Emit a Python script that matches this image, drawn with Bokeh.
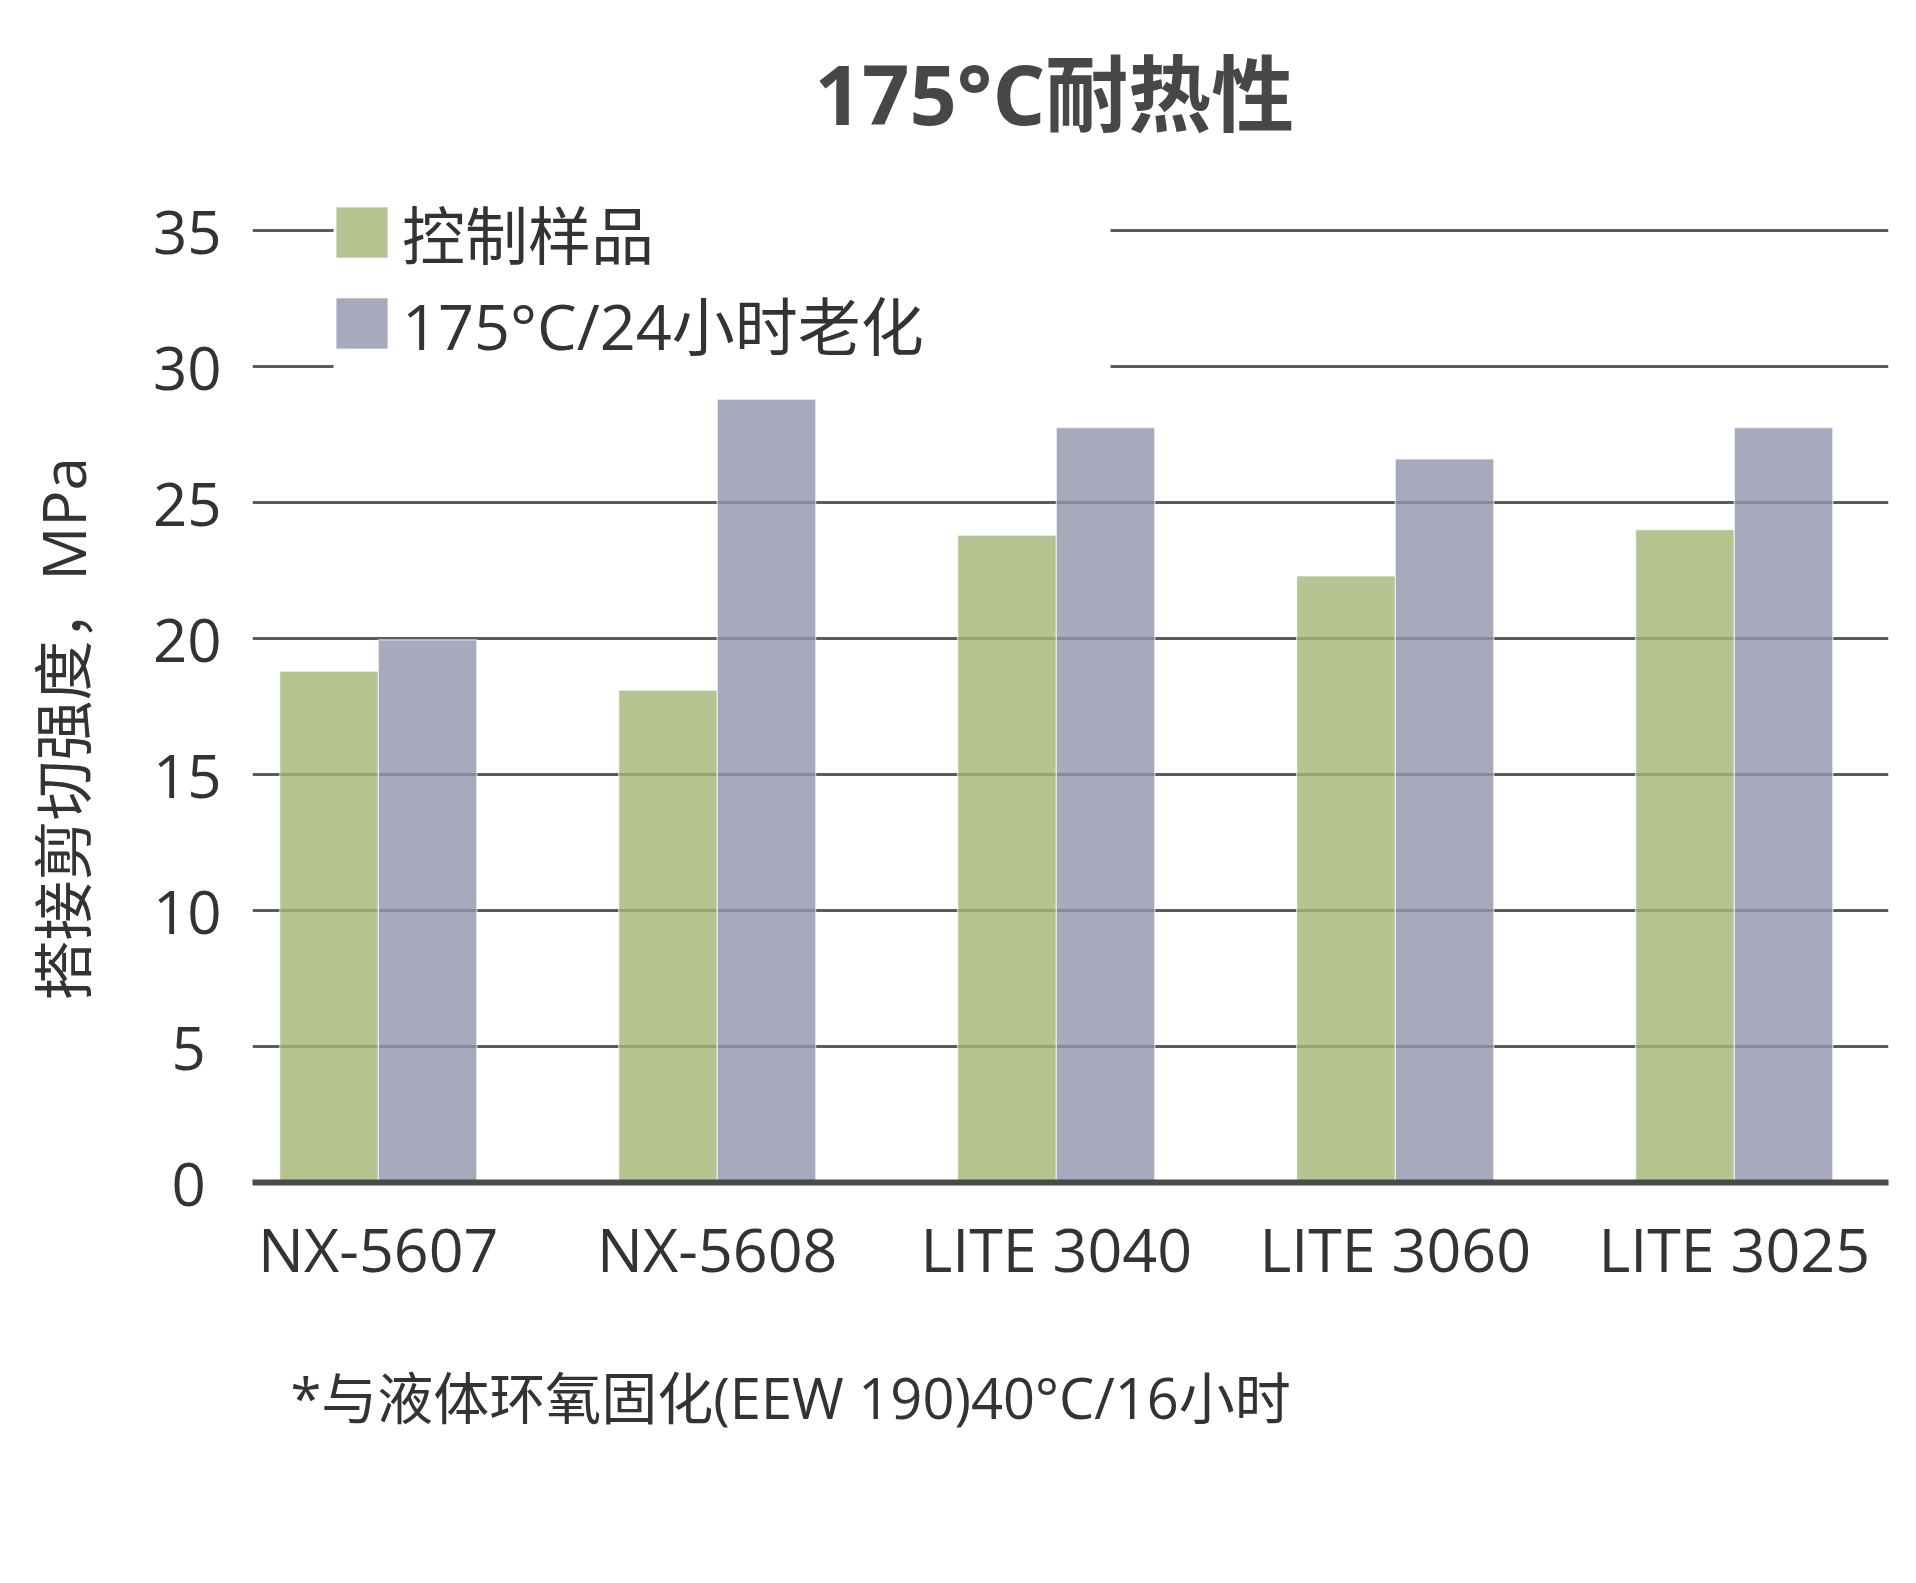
from bokeh.plotting import figure
from bokeh.models import (Range1d, FixedTicker, ColumnDataSource, BoxAnnotation,
                          Legend, LegendItem, Title)
from bokeh.transform import dodge
from bokeh.embed import file_html
from bokeh.resources import INLINE

# ---------------- data ----------------
categories = ["NX-5607", "NX-5608", "LITE 3040", "LITE 3060", "LITE 3025"]
control = [18.8, 18.1, 23.8, 22.3, 24.0]
aged = [19.95, 28.8, 27.75, 26.6, 27.75]
series_names = ["控制样品", "175°C/24小时老化"]
y_ticks = [0, 5, 10, 15, 20, 25, 30, 35]
title_text = "175°C耐热性"
y_title = "搭接剪切强度，MPa"
footnote = "*与液体环氧固化(EEW 190)40°C/16小时"

# ---------------- style / layout ----------------
FONT = "'Open Sans', 'Noto Sans CJK SC'"
TEXT = "#333333"
GREEN = "#A3B574"
GREY = "#9194AB"
BAR_ALPHA = 0.8

PX_PER_CAT = 339.0
PX_PER_UNIT = 27.2
FRAME_W = 1636
FRAME_H = 1012
X0 = -0.371
X1 = X0 + FRAME_W / PX_PER_CAT
Y1 = FRAME_H / PX_PER_UNIT
BAR_W = 0.2906
SHIFT = 27  # left panel widened by this much, figure pulled left by the same amount

p = figure(frame_width=FRAME_W, frame_height=FRAME_H,
           x_range=Range1d(X0, X1), y_range=Range1d(0, Y1),
           min_border_left=252 + SHIFT, min_border_right=20,
           min_border_top=170, min_border_bottom=388,
           margin=(0, 0, 0, -SHIFT),
           output_backend="svg", toolbar_location=None,
           background_fill_color="white", border_fill_color="white",
           outline_line_color=None)

src = ColumnDataSource(dict(x=list(range(len(categories))), control=control, aged=aged))

# grid
p.xgrid.visible = False
p.ygrid.ticker = FixedTicker(ticks=y_ticks[1:])
p.ygrid.grid_line_color = "#5c5c5c"
p.ygrid.grid_line_width = 3

# white mask behind the legend (interrupts the 30/35 gridlines)
mask = BoxAnnotation(left=X0 + 81 / PX_PER_CAT, right=X0 + 858 / PX_PER_CAT,
                     bottom=29.3, top=36.1, fill_color="white", fill_alpha=1.0,
                     line_color=None, level="glyph")
p.add_layout(mask)

r1 = p.vbar(x=dodge("x", -BAR_W / 2, range=p.x_range), top="control", width=BAR_W,
            source=src, fill_color=GREEN, fill_alpha=BAR_ALPHA,
            line_color="white", line_width=1, line_alpha=0.8)
r2 = p.vbar(x=dodge("x", BAR_W / 2, range=p.x_range), top="aged", width=BAR_W,
            source=src, fill_color=GREY, fill_alpha=BAR_ALPHA,
            line_color="white", line_width=1, line_alpha=0.8)

# y axis (single-digit labels padded so they sit centred under the two-digit ones)
p.yaxis.ticker = FixedTicker(ticks=y_ticks)
p.yaxis.major_label_overrides = {t: (str(t) + "\u2008" if t < 10 else str(t)) for t in y_ticks}
p.yaxis.axis_line_color = None
p.yaxis.major_tick_line_color = None
p.yaxis.minor_tick_line_color = None
p.yaxis.major_label_text_font = FONT
p.yaxis.major_label_text_font_size = "60px"
p.yaxis.major_label_text_color = TEXT
p.yaxis.major_label_standoff = 25

# x axis
p.xaxis.ticker = FixedTicker(ticks=list(range(len(categories))))
p.xaxis.major_label_overrides = {i: c for i, c in enumerate(categories)}
p.xaxis.axis_line_color = "#4a4a4a"
p.xaxis.axis_line_width = 6
p.xaxis.major_tick_line_color = None
p.xaxis.minor_tick_line_color = None
p.xaxis.major_label_text_font = FONT
p.xaxis.major_label_text_font_size = "61px"
p.xaxis.major_label_text_color = TEXT
p.xaxis.major_label_standoff = 18

# legend
legend = Legend(items=[LegendItem(label=series_names[0], renderers=[r1]),
                       LegendItem(label=series_names[1], renderers=[r2])],
                location=(77, 814), margin=0, padding=0, spacing=0,
                glyph_width=65, glyph_height=64,
                label_standoff=8, label_text_font=FONT,
                label_text_font_size="63px", label_text_color=TEXT,
                background_fill_alpha=0, border_line_color=None)
p.add_layout(legend, "center")

# main title
p.title.text = title_text
p.title.text_font = FONT
p.title.text_font_size = "83px"
p.title.text_font_style = "bold"
p.title.text_color = "#474747"
p.title.align = "left"
p.title.offset = 562
p.title.standoff = 44

# y-axis title
p.add_layout(Title(text=y_title, align="left", offset=182, standoff=64 + SHIFT,
                   text_font=FONT, text_font_size="60px", text_font_style="normal",
                   text_color=TEXT), "left")

# footnote
p.add_layout(Title(text=footnote, align="left", offset=38, standoff=128,
                   text_font=FONT, text_font_size="56px", text_font_style="normal",
                   text_color=TEXT), "below")

open("out.html", "w").write(file_html(p, INLINE))
